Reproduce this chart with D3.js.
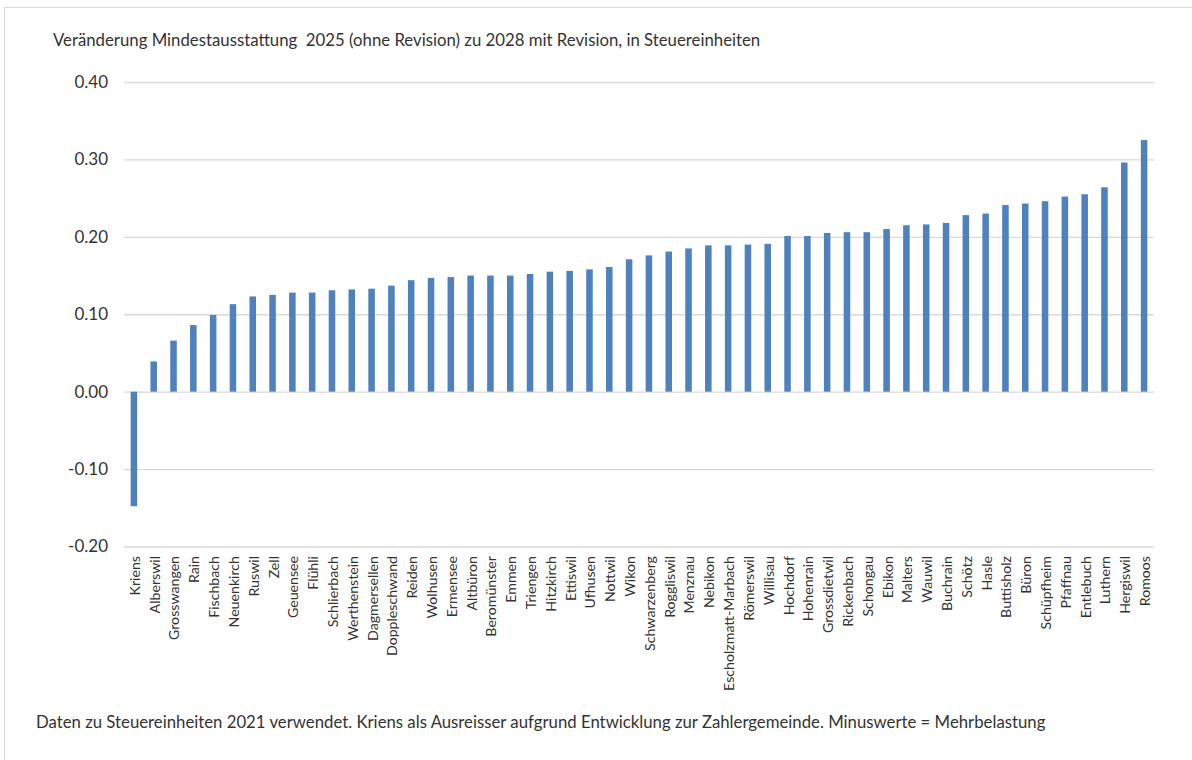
<!DOCTYPE html>
<html>
<head>
<meta charset="utf-8">
<script src="https://cdn.jsdelivr.net/npm/d3@7"></script>
<style>
    body { margin: 0; background: #fff; }
    text { font-family: Lato, "Open Sans", sans-serif; fill: #333; }
</style>
</head>
<body>
<script>
var gemeinden = ['Kriens', 'Alberswil', 'Grosswangen', 'Rain', 'Fischbach', 'Neuenkirch', 'Ruswil', 'Zell',
    'Geuensee', 'Flühli', 'Schlierbach', 'Werthenstein', 'Dagmersellen', 'Doppleschwand', 'Reiden', 'Wolhusen',
    'Ermensee', 'Altbüron', 'Beromünster', 'Emmen', 'Triengen', 'Hitzkirch', 'Ettiswil', 'Ufhusen', 'Nottwil',
    'Wikon', 'Schwarzenberg', 'Roggliswil', 'Menznau', 'Nebikon', 'Escholzmatt-Marbach', 'Römerswil', 'Willisau',
    'Hochdorf', 'Hohenrain', 'Grossdietwil', 'Rickenbach', 'Schongau', 'Ebikon', 'Malters', 'Wauwil', 'Buchrain',
    'Schötz', 'Hasle', 'Buttisholz', 'Büron', 'Schüpfheim', 'Pfaffnau', 'Entlebuch', 'Luthern', 'Hergiswil', 'Romoos'];

var veraenderung = [-0.148, 0.039, 0.066, 0.086, 0.099, 0.113, 0.123, 0.125,
    0.128, 0.128, 0.131, 0.132, 0.133, 0.137, 0.144, 0.147,
    0.148, 0.150, 0.150, 0.150, 0.152, 0.155, 0.156, 0.158, 0.161,
    0.171, 0.176, 0.181, 0.185, 0.189, 0.189, 0.190, 0.191,
    0.201, 0.201, 0.205, 0.206, 0.206, 0.210, 0.215, 0.216, 0.218,
    0.228, 0.230, 0.241, 0.243, 0.246, 0.252, 0.255, 0.264, 0.296, 0.325];

var yTicks = [-0.2, -0.1, 0, 0.1, 0.2, 0.3, 0.4];

var titel = 'Veränderung Mindestausstattung  2025 (ohne Revision) zu 2028 mit Revision, in Steuereinheiten';
var fussnote = 'Daten zu Steuereinheiten 2021 verwendet. Kriens als Ausreisser aufgrund Entwicklung zur Zahlergemeinde. Minuswerte = Mehrbelastung';

(function() {

    var width = 1192, height = 760;
    var left = 124, right = 1154, top = 82, bottom = 546.5;

    var svg = d3.select('body').append('svg')
        .attr('width', width)
        .attr('height', height);

    svg.append('rect')
        .attr('x', 4.5)
        .attr('y', 7.5)
        .attr('width', 1300)
        .attr('height', 900)
        .attr('fill', '#fff')
        .attr('stroke', '#d9d9d9');

    // scale a text's font-size so it spans the width seen in the original
    var fitWidth = function(sel, target) {
        var size = parseFloat(sel.style('font-size'));
        var w = sel.node().getComputedTextLength();
        sel.style('font-size', (size * target / w).toFixed(2) + 'px');
    };

    var x = d3.scaleBand()
        .domain(gemeinden)
        .range([left, right])
        .paddingInner(0.67)
        .paddingOuter(0.335);

    var y = d3.scaleLinear()
        .domain([-0.2, 0.4])
        .range([bottom, top]);

    // Excel writes a plain hyphen, d3 a real minus sign
    var fmt = d3.format('.2f');
    var tickFmt = function(d) { return fmt(d).replace('\u2212', '-'); };

    var yAxis = svg.append('g')
        .attr('transform', 'translate(' + left + ',0)')
        .call(d3.axisLeft(y)
            .tickValues(yTicks)
            .tickSize(-(right - left))
            .tickPadding(16)
            .tickFormat(tickFmt));

    yAxis.select('.domain').remove();
    yAxis.selectAll('.tick line')
        .attr('stroke', '#d9d9d9')
        .attr('stroke-width', 1.3);
    yAxis.selectAll('.tick text')
        .style('font-family', 'Lato, sans-serif')
        .style('font-size', '17px')
        .attr('fill', '#333');

    svg.selectAll('rect.bar')
        .data(veraenderung)
        .enter()
            .append('rect')
            .attr('class', 'bar')
            .attr('x', function(d, i) { return x(gemeinden[i]); })
            .attr('width', x.bandwidth())
            .attr('y', function(d) { return y(Math.max(0, d)); })
            .attr('height', function(d) { return Math.abs(y(d) - y(0)); })
            .attr('fill', '#4f81bd');

    var labels = svg.selectAll('text.gemeinde')
        .data(gemeinden)
        .enter()
            .append('text')
            .attr('class', 'gemeinde')
            .attr('text-anchor', 'end')
            .attr('dy', '0.35em')
            .attr('transform', function(d) {
                return 'translate(' + (x(d) + x.bandwidth() / 2 + 1) + ',556) rotate(-90)';
            })
            .style('font-size', '15px')
            .text(function(d) { return d; });

    // Escholzmatt-Marbach is about 135px long in the original
    var probe = labels.filter(function(d) { return d === 'Escholzmatt-Marbach'; });
    var lblSize = parseFloat(probe.style('font-size')) * 135 / probe.node().getComputedTextLength();
    labels.style('font-size', lblSize.toFixed(2) + 'px');

    var t = svg.append('text')
        .attr('x', 53)
        .attr('y', 46)
        .style('font-size', '15px')
        .style('white-space', 'pre')
        .text(titel);
    fitWidth(t, 708);

    var f = svg.append('text')
        .attr('x', 36)
        .attr('y', 728)
        .style('font-size', '15px')
        .text(fussnote);
    fitWidth(f, 1010);

}());
</script>
</body>
</html>
